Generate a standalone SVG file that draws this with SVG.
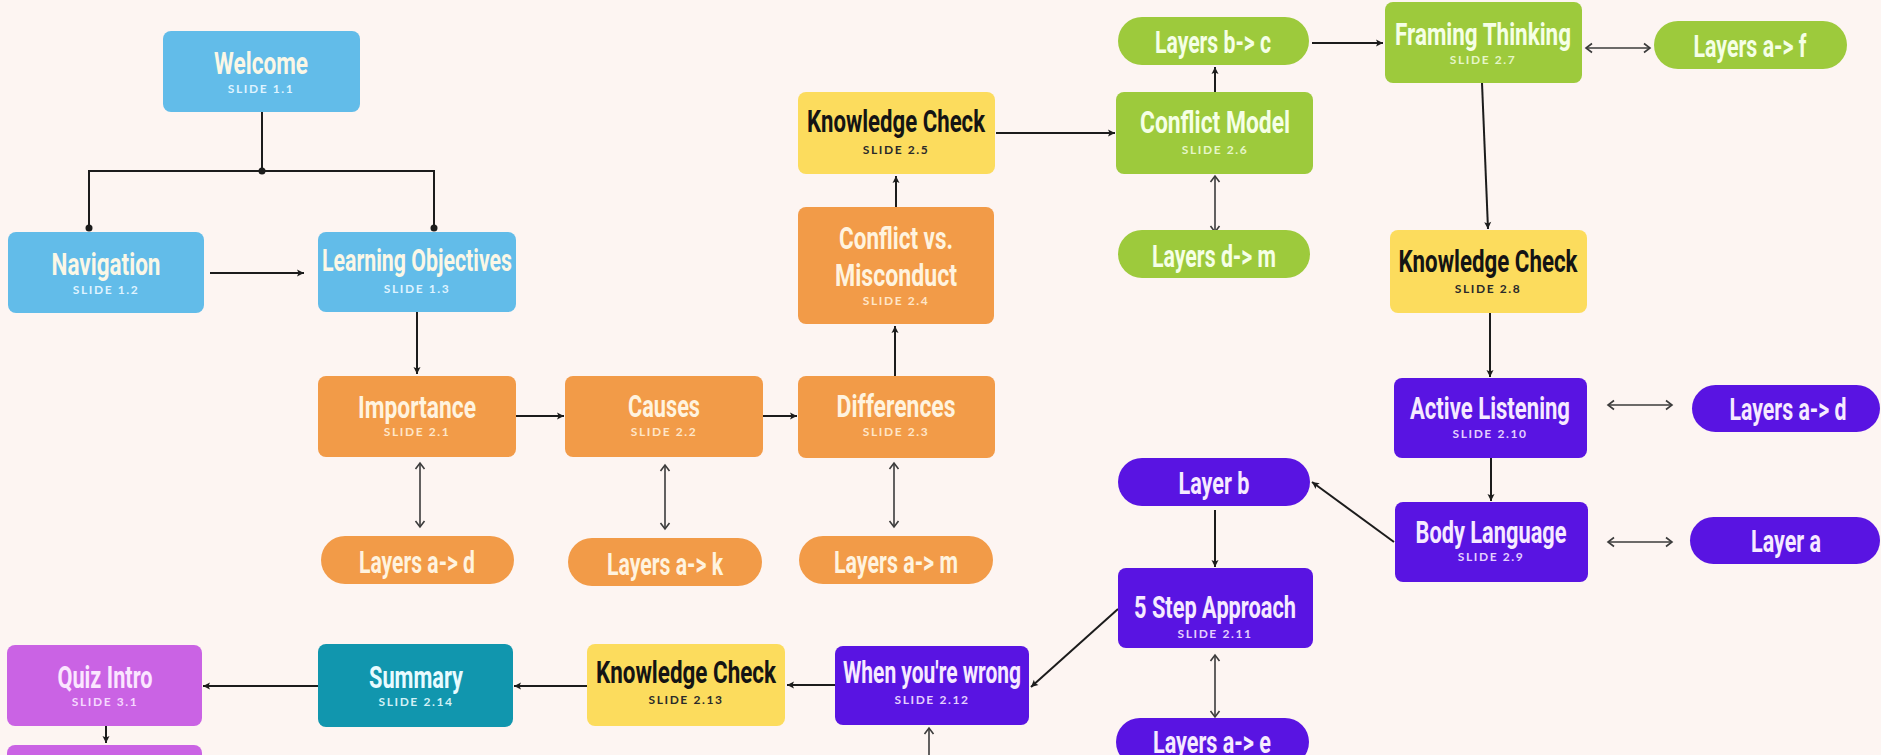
<svg xmlns="http://www.w3.org/2000/svg" width="1881" height="755" viewBox="0 0 1881 755">
  <style>
    .bg { fill: #fdf5f2; }
    .blue { fill: #62bce9; }
    .orange { fill: #f29b48; }
    .yellow { fill: #fcdc5d; }
    .green { fill: #9dca3c; }
    .purple { fill: #5914e2; }
    .teal { fill: #1196ae; }
    .lilac { fill: #ca63e4; }
    .t { font-family: "Roboto", "Liberation Sans", sans-serif; font-weight: 700; font-size: 32px; text-anchor: middle; }
    .p { font-family: "Roboto", "Liberation Sans", sans-serif; font-weight: 700; font-size: 32px; text-anchor: middle; }
    .s { font-family: "Lato", "Open Sans", sans-serif; font-weight: 700; font-size: 12px; letter-spacing: 1.6px; text-anchor: middle; }
    .tl-blue { fill: #fbf7e6; }
    .sl-blue { fill: #dff3ff; }
    .tl-orange { fill: #fff3df; }
    .sl-orange { fill: #ffe6c8; }
    .tl-dark { fill: #141414; }
    .sl-dark { fill: #2a2a2a; }
    .tl-green { fill: #f5ffe6; }
    .sl-green { fill: #e6f6c8; }
    .tl-purple { fill: #f6eaff; }
    .sl-purple { fill: #e4d0ff; }
    .tl-teal { fill: #e8fbff; }
    .sl-teal { fill: #d3f1f6; }
    .tl-lilac { fill: #fbe6ff; }
    .sl-lilac { fill: #f6d9ff; }
    .line { fill: none; stroke: #1c1c1c; stroke-width: 2; }
    .dbl { fill: none; stroke: #3b3b3b; stroke-width: 1.6; }
    .dot { fill: #1c1c1c; }
  </style>
  <defs>
    <marker id="head" markerUnits="userSpaceOnUse" markerWidth="10" markerHeight="10" refX="8" refY="5" orient="auto">
      <path d="M1,1.5 L8,5 L1,8.5 L2.5,5 Z" fill="#1c1c1c"/>
    </marker>
    <marker id="chev" markerUnits="userSpaceOnUse" markerWidth="12" markerHeight="12" refX="8" refY="6" orient="auto-start-reverse">
      <path d="M2,1.5 L8,6 L2,10.5" fill="none" stroke="#3b3b3b" stroke-width="1.6"/>
    </marker>
  </defs>

  <rect class="bg" x="0" y="0" width="1881" height="755"/>

  <!-- connectors -->
  <g id="connectors">
    <path class="line" d="M262,112 V171 M89,228 V171 H434 V228"/>
    <circle class="dot" cx="262" cy="171" r="3.5"/>
    <circle class="dot" cx="89" cy="228" r="3.5"/>
    <circle class="dot" cx="434" cy="228" r="3.5"/>
    <path class="line" d="M210,273 H304" marker-end="url(#head)"/>
    <path class="line" d="M417,312 V374" marker-end="url(#head)"/>
    <path class="line" d="M516,416 H564" marker-end="url(#head)"/>
    <path class="line" d="M763,416 H797" marker-end="url(#head)"/>
    <path class="line" d="M895,376 V326" marker-end="url(#head)"/>
    <path class="line" d="M896,207 V176" marker-end="url(#head)"/>
    <path class="line" d="M996,133 H1115" marker-end="url(#head)"/>
    <path class="line" d="M1215,92 V67" marker-end="url(#head)"/>
    <path class="line" d="M1312,43 H1383" marker-end="url(#head)"/>
    <path class="line" d="M1482,83 L1488,229" marker-end="url(#head)"/>
    <path class="line" d="M1490,313 V377" marker-end="url(#head)"/>
    <path class="line" d="M1491,458 V501" marker-end="url(#head)"/>
    <path class="line" d="M1394,542 L1312,482" marker-end="url(#head)"/>
    <path class="line" d="M1215,510 V567" marker-end="url(#head)"/>
    <path class="line" d="M1118,609 L1031,687" marker-end="url(#head)"/>
    <path class="line" d="M835,685 H787" marker-end="url(#head)"/>
    <path class="line" d="M587,686 H514" marker-end="url(#head)"/>
    <path class="line" d="M318,686 H203" marker-end="url(#head)"/>
    <path class="line" d="M106,726 V743" marker-end="url(#head)"/>
    <path class="dbl" d="M929,755 V728" marker-end="url(#chev)"/>
    <path class="dbl" d="M420,463 V527" marker-start="url(#chev)" marker-end="url(#chev)"/>
    <path class="dbl" d="M665,465 V529" marker-start="url(#chev)" marker-end="url(#chev)"/>
    <path class="dbl" d="M894,463 V527" marker-start="url(#chev)" marker-end="url(#chev)"/>
    <path class="dbl" d="M1215,176 V232" marker-start="url(#chev)" marker-end="url(#chev)"/>
    <path class="dbl" d="M1215,655 V717" marker-start="url(#chev)" marker-end="url(#chev)"/>
    <path class="dbl" d="M1586,48 H1650" marker-start="url(#chev)" marker-end="url(#chev)"/>
    <path class="dbl" d="M1608,405 H1672" marker-start="url(#chev)" marker-end="url(#chev)"/>
    <path class="dbl" d="M1608,542 H1672" marker-start="url(#chev)" marker-end="url(#chev)"/>
  </g>

  <!-- introduction -->
  <g id="welcome">
    <rect class="blue" x="163" y="31" width="197" height="81" rx="8"/>
    <text class="t tl-blue" x="261" y="74" textLength="94" lengthAdjust="spacingAndGlyphs">Welcome</text>
    <text class="s sl-blue" x="261" y="93">SLIDE 1.1</text>
  </g>
  <g id="navigation">
    <rect class="blue" x="8" y="232" width="196" height="81" rx="8"/>
    <text class="t tl-blue" x="106" y="275" textLength="109" lengthAdjust="spacingAndGlyphs">Navigation</text>
    <text class="s sl-blue" x="106" y="294">SLIDE 1.2</text>
  </g>
  <g id="learning-objectives">
    <rect class="blue" x="318" y="232" width="198" height="80" rx="8"/>
    <text class="t tl-blue" x="417" y="271" textLength="190" lengthAdjust="spacingAndGlyphs">Learning Objectives</text>
    <text class="s sl-blue" x="417" y="293">SLIDE 1.3</text>
  </g>

  <!-- section 2: orange -->
  <g id="importance">
    <rect class="orange" x="318" y="376" width="198" height="81" rx="8"/>
    <text class="t tl-orange" x="417" y="418" textLength="118" lengthAdjust="spacingAndGlyphs">Importance</text>
    <text class="s sl-orange" x="417" y="436">SLIDE 2.1</text>
  </g>
  <g id="causes">
    <rect class="orange" x="565" y="376" width="198" height="81" rx="8"/>
    <text class="t tl-orange" x="664" y="417" textLength="72" lengthAdjust="spacingAndGlyphs">Causes</text>
    <text class="s sl-orange" x="664" y="436">SLIDE 2.2</text>
  </g>
  <g id="differences">
    <rect class="orange" x="798" y="376" width="197" height="82" rx="8"/>
    <text class="t tl-orange" x="896" y="417" textLength="119" lengthAdjust="spacingAndGlyphs">Differences</text>
    <text class="s sl-orange" x="896" y="436">SLIDE 2.3</text>
  </g>
  <g id="conflict-vs-misconduct">
    <rect class="orange" x="798" y="207" width="196" height="117" rx="8"/>
    <text class="t tl-orange" x="896" y="249" textLength="114" lengthAdjust="spacingAndGlyphs">Conflict vs.</text>
    <text class="t tl-orange" x="896" y="286" textLength="122" lengthAdjust="spacingAndGlyphs">Misconduct</text>
    <text class="s sl-orange" x="896" y="305">SLIDE 2.4</text>
  </g>
  <g id="importance-layers">
    <rect class="orange" x="321" y="536" width="193" height="48" rx="24"/>
    <text class="p tl-orange" x="417" y="573" textLength="116" lengthAdjust="spacingAndGlyphs">Layers a-&gt; d</text>
  </g>
  <g id="causes-layers">
    <rect class="orange" x="568" y="538" width="194" height="48" rx="24"/>
    <text class="p tl-orange" x="665" y="575" textLength="116" lengthAdjust="spacingAndGlyphs">Layers a-&gt; k</text>
  </g>
  <g id="differences-layers">
    <rect class="orange" x="799" y="536" width="194" height="48" rx="24"/>
    <text class="p tl-orange" x="896" y="573" textLength="124" lengthAdjust="spacingAndGlyphs">Layers a-&gt; m</text>
  </g>

  <!-- knowledge checks -->
  <g id="knowledge-check-2-5">
    <rect class="yellow" x="798" y="92" width="197" height="82" rx="8"/>
    <text class="t tl-dark" x="896" y="132" textLength="178" lengthAdjust="spacingAndGlyphs">Knowledge Check</text>
    <text class="s sl-dark" x="896" y="154">SLIDE 2.5</text>
  </g>
  <g id="knowledge-check-2-8">
    <rect class="yellow" x="1390" y="230" width="197" height="83" rx="8"/>
    <text class="t tl-dark" x="1488" y="272" textLength="179" lengthAdjust="spacingAndGlyphs">Knowledge Check</text>
    <text class="s sl-dark" x="1488" y="293">SLIDE 2.8</text>
  </g>
  <g id="knowledge-check-2-13">
    <rect class="yellow" x="587" y="644" width="198" height="82" rx="8"/>
    <text class="t tl-dark" x="686" y="683" textLength="180" lengthAdjust="spacingAndGlyphs">Knowledge Check</text>
    <text class="s sl-dark" x="686" y="704">SLIDE 2.13</text>
  </g>

  <!-- section 2: green -->
  <g id="conflict-model">
    <rect class="green" x="1116" y="92" width="197" height="82" rx="8"/>
    <text class="t tl-green" x="1215" y="133" textLength="150" lengthAdjust="spacingAndGlyphs">Conflict Model</text>
    <text class="s sl-green" x="1215" y="154">SLIDE 2.6</text>
  </g>
  <g id="framing-thinking">
    <rect class="green" x="1385" y="2" width="197" height="81" rx="8"/>
    <text class="t tl-green" x="1483" y="45" textLength="176" lengthAdjust="spacingAndGlyphs">Framing Thinking</text>
    <text class="s sl-green" x="1483" y="64">SLIDE 2.7</text>
  </g>
  <g id="model-layers-bc">
    <rect class="green" x="1118" y="17" width="191" height="48" rx="24"/>
    <text class="p tl-green" x="1213" y="53" textLength="116" lengthAdjust="spacingAndGlyphs">Layers b-&gt; c</text>
  </g>
  <g id="model-layers-dm">
    <rect class="green" x="1118" y="230" width="192" height="48" rx="24"/>
    <text class="p tl-green" x="1214" y="267" textLength="124" lengthAdjust="spacingAndGlyphs">Layers d-&gt; m</text>
  </g>
  <g id="framing-layers">
    <rect class="green" x="1654" y="21" width="193" height="48" rx="24"/>
    <text class="p tl-green" x="1750" y="57" textLength="113" lengthAdjust="spacingAndGlyphs">Layers a-&gt; f</text>
  </g>

  <!-- section 2: purple -->
  <g id="active-listening">
    <rect class="purple" x="1394" y="378" width="193" height="80" rx="8"/>
    <text class="t tl-purple" x="1490" y="419" textLength="160" lengthAdjust="spacingAndGlyphs">Active Listening</text>
    <text class="s sl-purple" x="1490" y="438">SLIDE 2.10</text>
  </g>
  <g id="body-language">
    <rect class="purple" x="1395" y="502" width="193" height="80" rx="8"/>
    <text class="t tl-purple" x="1491" y="543" textLength="151" lengthAdjust="spacingAndGlyphs">Body Language</text>
    <text class="s sl-purple" x="1491" y="561">SLIDE 2.9</text>
  </g>
  <g id="five-step-approach">
    <rect class="purple" x="1118" y="568" width="195" height="80" rx="8"/>
    <text class="t tl-purple" x="1215" y="618" textLength="162" lengthAdjust="spacingAndGlyphs">5 Step Approach</text>
    <text class="s sl-purple" x="1215" y="638">SLIDE 2.11</text>
  </g>
  <g id="when-youre-wrong">
    <rect class="purple" x="835" y="646" width="194" height="79" rx="8"/>
    <text class="t tl-purple" x="932" y="683" textLength="178" lengthAdjust="spacingAndGlyphs">When you're wrong</text>
    <text class="s sl-purple" x="932" y="704">SLIDE 2.12</text>
  </g>
  <g id="layer-b">
    <rect class="purple" x="1118" y="458" width="192" height="48" rx="24"/>
    <text class="p tl-purple" x="1214" y="494" textLength="71" lengthAdjust="spacingAndGlyphs">Layer b</text>
  </g>
  <g id="approach-layers">
    <rect class="purple" x="1116" y="718" width="193" height="48" rx="24"/>
    <text class="p tl-purple" x="1212" y="753" textLength="118" lengthAdjust="spacingAndGlyphs">Layers a-&gt; e</text>
  </g>
  <g id="listening-layers">
    <rect class="purple" x="1692" y="385" width="188" height="47" rx="23.5"/>
    <text class="p tl-purple" x="1788" y="420" textLength="117" lengthAdjust="spacingAndGlyphs">Layers a-&gt; d</text>
  </g>
  <g id="body-layer-a">
    <rect class="purple" x="1690" y="517" width="190" height="47" rx="23.5"/>
    <text class="p tl-purple" x="1786" y="552" textLength="70" lengthAdjust="spacingAndGlyphs">Layer a</text>
  </g>

  <!-- wrap-up -->
  <g id="summary">
    <rect class="teal" x="318" y="644" width="195" height="83" rx="8"/>
    <text class="t tl-teal" x="416" y="688" textLength="94" lengthAdjust="spacingAndGlyphs">Summary</text>
    <text class="s sl-teal" x="416" y="706">SLIDE 2.14</text>
  </g>
  <g id="quiz-intro">
    <rect class="lilac" x="7" y="645" width="195" height="81" rx="8"/>
    <text class="t tl-lilac" x="105" y="688" textLength="95" lengthAdjust="spacingAndGlyphs">Quiz Intro</text>
    <text class="s sl-lilac" x="105" y="706">SLIDE 3.1</text>
  </g>
  <g id="quiz-next">
    <rect class="lilac" x="7" y="745" width="195" height="40" rx="8"/>
  </g>
</svg>
